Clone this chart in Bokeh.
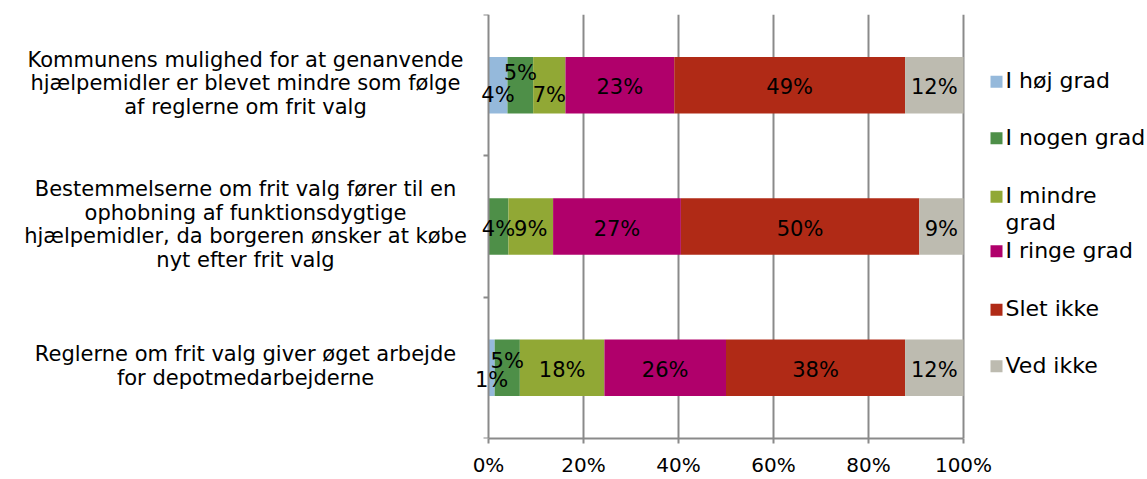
from bokeh.plotting import figure
from bokeh.models import ColumnDataSource, FixedTicker, LabelSet, CustomJSTickFormatter
from bokeh.core.properties import value
from bokeh.embed import file_html
from bokeh.resources import INLINE

# ---------------- data ----------------
categories = [
    "Kommunens mulighed for at genanvende\nhjælpemidler er blevet mindre som følge\naf reglerne om frit valg",
    "Bestemmelserne om frit valg fører til en\nophobning af funktionsdygtige\nhjælpemidler, da borgeren ønsker at købe\nnyt efter frit valg",
    "Reglerne om frit valg giver øget arbejde\nfor depotmedarbejderne",
]
series = ["I høj grad", "I nogen grad", "I mindre grad", "I ringe grad", "Slet ikke", "Ved ikke"]
legend_labels = ["I høj grad", "I nogen grad", "I mindre\ngrad", "I ringe grad", "Slet ikke", "Ved ikke"]
hoej_grad = [4.0, 0.0, 1.3]
nogen_grad = [5.4, 4.2, 5.3]
mindre_grad = [6.8, 9.4, 17.8]
ringe_grad = [22.9, 26.9, 25.6]
slet_ikke = [48.6, 50.2, 37.7]
ved_ikke = [12.3, 9.3, 12.3]
x_ticks = [0, 20, 40, 60, 80, 100]
x_tick_labels = ["0%", "20%", "40%", "60%", "80%", "100%"]

colors = ["#95B9DB", "#4E8F48", "#91A835", "#B0006B", "#B02A16", "#BDBBB0"]
FONT = value("DejaVu Sans")

values = [hoej_grad, nogen_grad, mindre_grad, ringe_grad, slet_ikke, ved_ikke]
ypos = [2, 1, 0]  # top to bottom

# ---------------- layout (canvas px) ----------------
W, H = 1147, 479
X0, X100 = 488, 963        # pixel of 0% and 100%
FT, FB = 14, 442           # frame top / bottom
ppu = (X100 - X0) / 100.0  # pixels per percent
x_start = -X0 / ppu
x_end = (W - X0) / ppu

p = figure(width=W, height=H, x_range=(x_start, x_end), y_range=(-0.5, 2.5),
           output_backend="svg", toolbar_location=None,
           min_border_left=0, min_border_right=0,
           min_border_top=FT, min_border_bottom=H - FB)
p.outline_line_color = None


def px2x(px):
    return (px - X0) / ppu


def py2y(py):
    return 2.5 - (py - FT) * 3.0 / (FB - FT)


data = {"y": ypos}
for s, v in zip(series, values):
    data[s] = v
src = ColumnDataSource(data)
p.hbar_stack(series, y="y", height=0.4, color=colors, line_color=None, source=src)

# ---------------- axes / grid ----------------
GRID = "#8A8A8A"
xa = p.xaxis[0]
xa.ticker = FixedTicker(ticks=x_ticks)
xa.bounds = (0, 100)
xa.major_label_overrides = {t: l for t, l in zip(x_ticks, x_tick_labels)}
xa.axis_line_color = GRID
xa.axis_line_width = 2
xa.major_tick_line_color = GRID
xa.major_tick_line_width = 2
xa.major_tick_out = 5
xa.major_tick_in = 0
xa.minor_tick_line_color = None
xa.major_label_text_font = "DejaVu Sans"
xa.major_label_text_font_size = "20px"
xa.major_label_text_color = "black"
xa.major_label_standoff = 9

ya = p.yaxis[0]
ya.fixed_location = 0
ya.ticker = FixedTicker(ticks=[-0.5, 0.5, 1.5, 2.5])
ya.formatter = CustomJSTickFormatter(code="return ''")
ya.axis_line_color = GRID
ya.axis_line_width = 2
ya.major_tick_line_color = GRID
ya.major_tick_line_width = 2
ya.major_tick_out = 5
ya.major_tick_in = 0
ya.minor_tick_line_color = None

p.xgrid.ticker = FixedTicker(ticks=x_ticks[1:])
p.xgrid.grid_line_color = GRID
p.xgrid.grid_line_width = 2
p.ygrid.grid_line_color = None

# ---------------- data labels ----------------
nudge = {(0, 0): -8, (0, 1): 14, (0, 2): -8, (2, 0): -10, (2, 1): 9}  # px, up positive
lx, ly, lt, lo = [], [], [], []
for r in range(len(categories)):
    left = 0.0
    for k, v in enumerate(values):
        val = v[r]
        if round(val) > 0:
            lx.append(left + val / 2.0)
            ly.append(ypos[r])
            lt.append(f"{round(val)}%")
            lo.append(nudge.get((r, k), 0) - 2)
        left += val
lab_src = ColumnDataSource(dict(x=lx, y=ly, text=lt, yo=lo))
p.add_layout(LabelSet(x="x", y="y", text="text", y_offset="yo", source=lab_src,
                      text_align="center", text_baseline="middle",
                      text_font=FONT, text_font_size="21px", text_color="black"))

# ---------------- category labels (each line centred) ----------------
LINE = 23.5
cx, cy, ct, co = [], [], [], []
for r, cat in enumerate(categories):
    lines = cat.split("\n")
    n = len(lines)
    for j, line in enumerate(lines):
        cx.append(px2x(245))
        cy.append(ypos[r])
        ct.append(line)
        co.append(2 + ((n - 1) / 2.0 - j) * LINE)
cat_src = ColumnDataSource(dict(x=cx, y=cy, text=ct, yo=co))
p.add_layout(LabelSet(x="x", y="y", text="text", y_offset="yo", source=cat_src,
                      text_align="center", text_baseline="middle",
                      text_font=FONT, text_font_size="21px", text_color="black"))

# ---------------- legend (drawn in plot space, right of bars) ----------------
leg_rows = [81, 138, 197, 252, 311, 368]  # px centre of first text line
leg_src = ColumnDataSource(dict(
    sx=[px2x(996)] * len(series),
    sy=[py2y(r + 1) for r in leg_rows],
    tx=[px2x(1005)] * len(series),
    ty=[py2y(r - 12.5) for r in leg_rows],
    text=legend_labels,
    color=colors,
))
p.scatter(x="sx", y="sy", marker="square", size=12, color="color", line_color=None, source=leg_src)
p.add_layout(LabelSet(x="tx", y="ty", text="text", source=leg_src,
                      text_align="left", text_baseline="top",
                      text_font=FONT, text_font_size="22px", text_color="black",
                      text_line_height=1.05))

open("out.html", "w").write(file_html(p, INLINE))
